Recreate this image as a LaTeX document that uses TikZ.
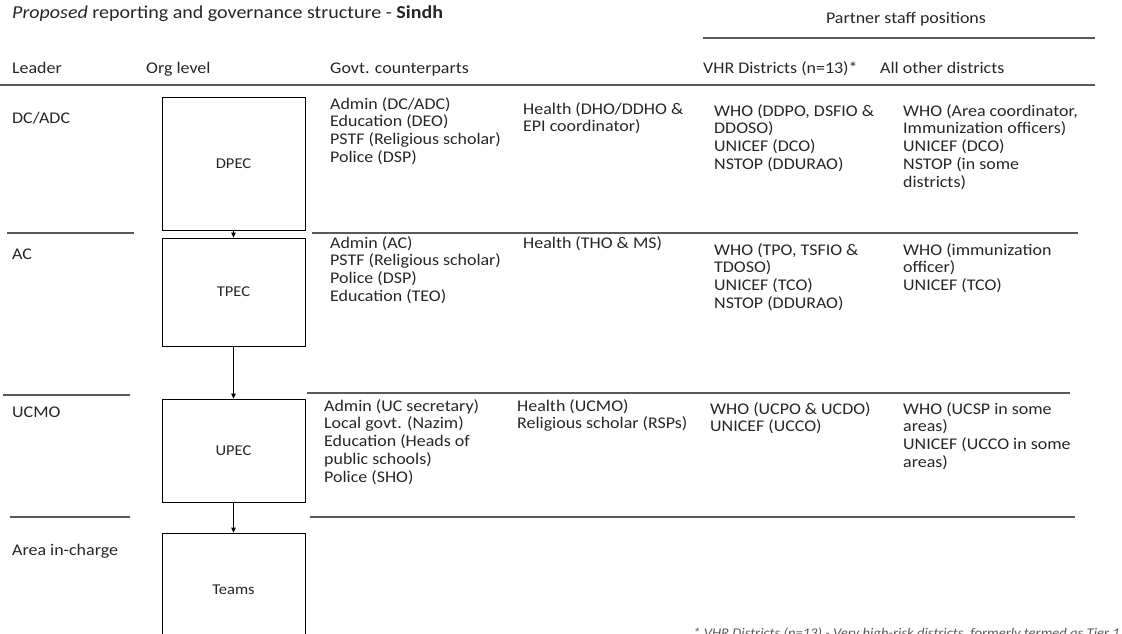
\documentclass[tikz,border=0pt]{standalone}
\usepackage{fontspec}
\setmainfont{Carlito}[FakeStretch = 1.1]
\usepackage{tikz}
\usetikzlibrary{arrows.meta, positioning}
\definecolor{testo}{HTML}{262626}
\definecolor{riga}{HTML}{595959}
\definecolor{nota}{HTML}{595959}
\newcommand{\righe}[1]{\begin{tabular}[t]{@{}l@{}}#1\end{tabular}}

\begin{document}
\begin{tikzpicture}[x = 1pt, y = -1pt,
    every node/.style = {text = testo, font = \fontsize{16.3}{17.8}\selectfont},
    cella/.style = {anchor = base west, inner sep = 0pt},
    orgbox/.style = {draw, line width = 0.8pt, minimum width = 143pt, font = \fontsize{15}{16}\selectfont},
    freccia/.style = {-{Triangle[length = 5pt, width = 4.5pt]}, line width = 0.8pt},
    sep/.style = {draw = riga, line width = 1.1pt}]
    % Parametri
    \pgfmathsetmacro{\colgov}{330}
    \pgfmathsetmacro{\colhealth}{523}
    \pgfmathsetmacro{\colvhr}{714}
    \pgfmathsetmacro{\colother}{903}
    \useasboundingbox (0,0) rectangle (1122,633);
    % Titolo
    \node[cella, font = \fontsize{18.2}{20}\selectfont] (titolo) at (12,18)
        {\textit{Proposed} reporting and governance structure - \textbf{Sindh}};
    \node[anchor = base, inner sep = 0pt] (partner) at (906,23) {Partner staff positions};
    \draw[sep] (703,38) -- (1095,38);
    % Intestazioni
    \node[cella] (hleader) at (12,73) {Leader};
    \node[cella] (horg) at (146,73) {Org level};
    \node[cella] (hgov) at (\colgov,73) {Govt. counterparts};
    \node[cella] (hvhr) at (703,73) {VHR Districts (n=13)*};
    \node[cella] (hother) at (880,73) {All other districts};
    \draw[sep, line width = 1.8pt] (0,85) -- (1095,85);

    % Livello distretto
    \node[cella] (ldc) at (12,123) {DC/ADC};
    \node[orgbox, minimum height = 133pt] (dpec) at (233.5,163.5) {DPEC};
    \node[cella] (gdc) at (\colgov,109)
        {\righe{Admin (DC/ADC)\\Education (DEO)\\PSTF (Religious scholar)\\Police (DSP)}};
    \node[cella] (hdc) at (\colhealth,114) {\righe{Health (DHO/DDHO \&\\EPI coordinator)}};
    \node[cella] (vdc) at (\colvhr,116)
        {\righe{WHO (DDPO, DSFIO \&\\DDOSO)\\UNICEF (DCO)\\NSTOP (DDURAO)}};
    \node[cella] (odc) at (\colother,116)
        {\righe{WHO (Area coordinator,\\Immunization officers)\\UNICEF (DCO)\\NSTOP (in some\\districts)}};
    \draw[sep] (7,233) -- (134,233);
    \draw[sep] (312,233) -- (1078,233);

    % Livello tehsil
    \node[cella] (lac) at (12,259) {AC};
    \node[orgbox, minimum height = 108pt] (tpec) at (233.5,292) {TPEC};
    \node[cella] (gac) at (\colgov,248)
        {\righe{Admin (AC)\\PSTF (Religious scholar)\\Police (DSP)\\Education (TEO)}};
    \node[cella] (hac) at (\colhealth,248) {Health (THO \& MS)};
    \node[cella] (vac) at (\colvhr,255)
        {\righe{WHO (TPO, TSFIO \&\\TDOSO)\\UNICEF (TCO)\\NSTOP (DDURAO)}};
    \node[cella] (oac) at (\colother,255) {\righe{WHO (immunization\\officer)\\UNICEF (TCO)}};
    \draw[sep] (3,395) -- (130,395);
    \draw[sep] (307,393) -- (1070,393);

    % Livello UC
    \node[cella] (luc) at (12,417) {UCMO};
    \node[orgbox, minimum height = 103pt] (upec) at (233.5,450.5) {UPEC};
    \node[cella] (guc) at (\colgov-6,411)
        {\righe{Admin (UC secretary)\\Local govt. (Nazim)\\Education (Heads of\\public schools)\\Police (SHO)}};
    \node[cella] (huc) at (\colhealth-6,411) {\righe{Health (UCMO)\\Religious scholar (RSPs)}};
    \node[cella] (vuc) at (\colvhr-4,414) {\righe{WHO (UCPO \& UCDO)\\UNICEF (UCCO)}};
    \node[cella] (ouc) at (\colother,414)
        {\righe{WHO (UCSP in some\\areas)\\UNICEF (UCCO in some\\areas)}};
    \draw[sep] (10,517) -- (130,517);
    \draw[sep] (310,517) -- (1075,517);

    % Squadre
    \node[cella] (larea) at (12,555) {Area in-charge};
    \node[orgbox, minimum height = 114pt] (teams) at (233.5,590) {Teams};

    % Frecce
    \draw[freccia] (dpec) -- (tpec);
    \draw[freccia] (tpec) -- (upec);
    \draw[freccia] (upec) -- (teams);

    % Nota
    \node[anchor = base west, inner sep = 0pt, text = nota,
        font = \fontsize{13.3}{15}\selectfont\itshape] (nota) at (693,637)
        {* VHR Districts (n=13) - Very high-risk districts, formerly termed as Tier 1};
\end{tikzpicture}
\end{document}
